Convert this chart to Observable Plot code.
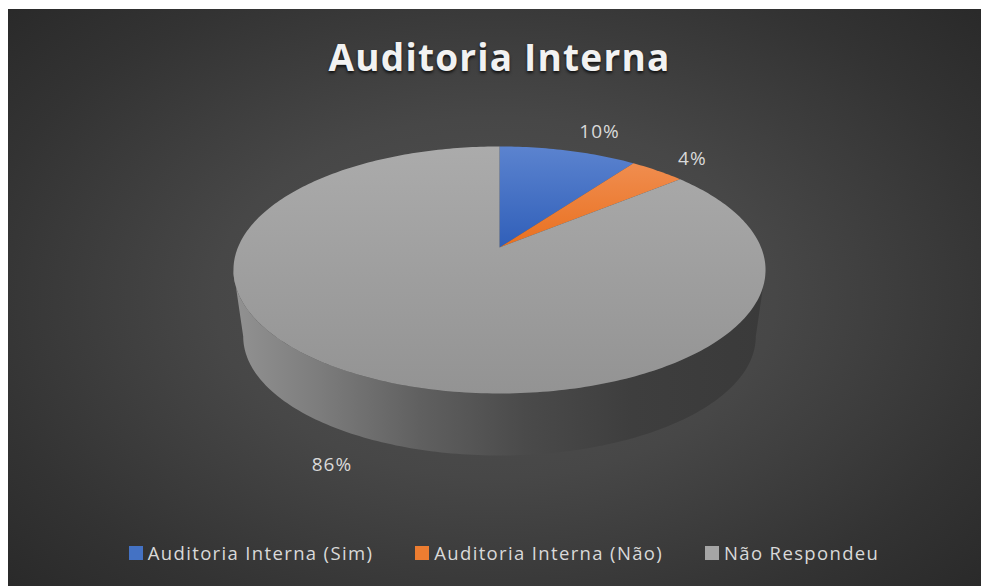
<!DOCTYPE html>
<html><head><meta charset="utf-8">
<script src="https://cdn.jsdelivr.net/npm/d3@7"></script>
<script src="https://cdn.jsdelivr.net/npm/@observablehq/plot@0.6"></script>
<style>
html,body{margin:0;padding:0;background:#fff;}
#panel{position:absolute;left:8px;top:9px;width:973px;height:577px;overflow:hidden;
  background:radial-gradient(ellipse 72% 78% at 50% 50%, #535353 0%, #474747 40%, #333333 75%, #272727 100%);
  font-family:"Open Sans",sans-serif;}
#title{height:96px;line-height:96px;text-align:center;color:#f2f2f2;font-weight:700;font-size:37px;letter-spacing:1.2px;
  padding-left:10px;text-shadow:0 2px 3px rgba(0,0,0,.75);}
#chart svg{display:block}
#legend{display:flex;justify-content:center;gap:42px;padding-top:26px;padding-left:19px;color:#d9d9d9;font-size:18.5px;line-height:24px;letter-spacing:1.35px}
.item{display:flex;align-items:center}
.sw{width:14px;height:14px;margin-right:5px}
</style></head><body>
<div id="panel"><div id="title"></div><div id="chart"></div><div id="legend"></div></div>
<script>
// ---- data ----
const chartTitle = "Auditoria Interna";
const categories = ["Auditoria Interna (Sim)", "Auditoria Interna (Não)", "Não Respondeu"];
const values = [10, 4, 86];
const colors = ["#4472C4", "#ED7D31", "#A5A5A5"];

// ---- 3D perspective pie geometry ----
const A = 261.6, B = 119.4, K = 0.182;        // top face
const A2 = 252, B2 = 115, DY = 67.4;           // bottom face
const rad = d => d * Math.PI / 180;
function topPt(deg, r = 1) {
  const X = r * Math.sin(rad(deg)), Y = r * Math.cos(rad(deg)), w = 1 + K * Y;
  return {x: A * X / w, y: -B * Y / w};
}
function botPt(deg, r = 1) {
  const X = r * Math.sin(rad(deg)), Y = r * Math.cos(rad(deg)), w = 1 + K * Y;
  return {x: A2 * X / w, y: DY - B2 * Y / w};
}
function arc(f, a0, a1) {
  const n = Math.max(2, Math.ceil(Math.abs(a1 - a0)));
  return d3.range(n + 1).map(i => f(a0 + (a1 - a0) * i / n));
}
const total = d3.sum(values);
let acc = 0;
const slices = values.map((v, i) => {
  const s = acc / total * 360; acc += v; const e = acc / total * 360;
  return {i, s, e, m: (s + e) / 2, label: v + "%"};
});

const silR = Math.acos(-K) * 180 / Math.PI;   // ~100.5
const silL = 360 - silR;                       // ~259.5

const marks = [];
// shadow
const shadow = arc(d => { const p = botPt(d); return {x: p.x, y: p.y + 5}; }, 0, 360);
marks.push(Plot.line(shadow, {x: "x", y: "y", fill: "#0d0d0d", fillOpacity: 0.75, stroke: "none", ariaLabel: "shadow"}));
// side wall
const side = arc(d => topPt(d), silR, silL).concat(arc(d => botPt(d), silL, silR));
marks.push(Plot.line(side, {x: "x", y: "y", fill: "url(#gside)", stroke: "none"}));
// top slices
for (const sl of slices) {
  const pts = [{x: 0, y: 0}].concat(arc(d => topPt(d), sl.s, sl.e));
  pts.push({x: 0, y: 0});
  marks.push(Plot.line(pts, {x: "x", y: "y", fill: `url(#g${sl.i})`, stroke: "none"}));
}
// labels
for (const sl of slices) {
  const c = Math.cos(rad(sl.m)), s = Math.sin(rad(sl.m));
  const p = c >= 0 ? topPt(sl.m, 1.12) : botPt(sl.m, 1.12);
  marks.push(Plot.text([{x: p.x + (s >= 0 ? 4 : 0), y: p.y - 10 * c * c * c, t: sl.label}], {
    x: "x", y: "y", text: "t", textAnchor: s >= 0 ? "start" : "end",
    fill: "#d9d9d9", fontSize: 19, fontFamily: "Open Sans", lineAnchor: "middle"
  }));
}

const W = 973, H = 410, CX = 491, CY = 142;
const svg = Plot.plot({
  width: W, height: H, margin: 0,
  x: {domain: [-CX, W - CX], range: [0, W], axis: null},
  y: {domain: [-CY, H - CY], range: [0, H], axis: null},
  style: {background: "transparent", overflow: "visible", letterSpacing: "1px"},
  marks
});

const defsSrc = `<svg xmlns="http://www.w3.org/2000/svg"><defs>
<linearGradient id="g0" x1="0" y1="0" x2="0" y2="1"><stop offset="0" stop-color="#5b83cf"/><stop offset="1" stop-color="#305fb9"/></linearGradient>
<linearGradient id="g1" x1="0" y1="0" x2="0" y2="1"><stop offset="0" stop-color="#f08d4f"/><stop offset="1" stop-color="#e9701f"/></linearGradient>
<linearGradient id="g2" x1="0" y1="0" x2="0" y2="1"><stop offset="0" stop-color="#ababab"/><stop offset="1" stop-color="#939393"/></linearGradient>
<linearGradient id="gside" x1="0" y1="0" x2="1" y2="0">
 <stop offset="0" stop-color="#929292"/><stop offset="0.15" stop-color="#7e7e7e"/><stop offset="0.35" stop-color="#606060"/>
 <stop offset="0.55" stop-color="#4a4a4a"/><stop offset="0.75" stop-color="#3e3e3e"/><stop offset="1" stop-color="#3a3a3a"/></linearGradient>
<filter id="blur" x="-20%" y="-40%" width="140%" height="180%"><feGaussianBlur stdDeviation="3"/></filter>
</defs></svg>`;
const doc = new DOMParser().parseFromString(defsSrc, "image/svg+xml");
svg.insertBefore(document.importNode(doc.documentElement.firstElementChild, true), svg.firstChild);
const sh = svg.querySelector('[aria-label="shadow"]');
if (sh) sh.setAttribute("filter", "url(#blur)");

document.getElementById("title").textContent = chartTitle;
document.getElementById("chart").appendChild(svg);
const leg = document.getElementById("legend");
categories.forEach((c, i) => {
  const it = document.createElement("div"); it.className = "item";
  const sw = document.createElement("span"); sw.className = "sw"; sw.style.background = colors[i];
  const tx = document.createElement("span"); tx.textContent = c;
  it.appendChild(sw); it.appendChild(tx); leg.appendChild(it);
});
</script>
</body></html>
